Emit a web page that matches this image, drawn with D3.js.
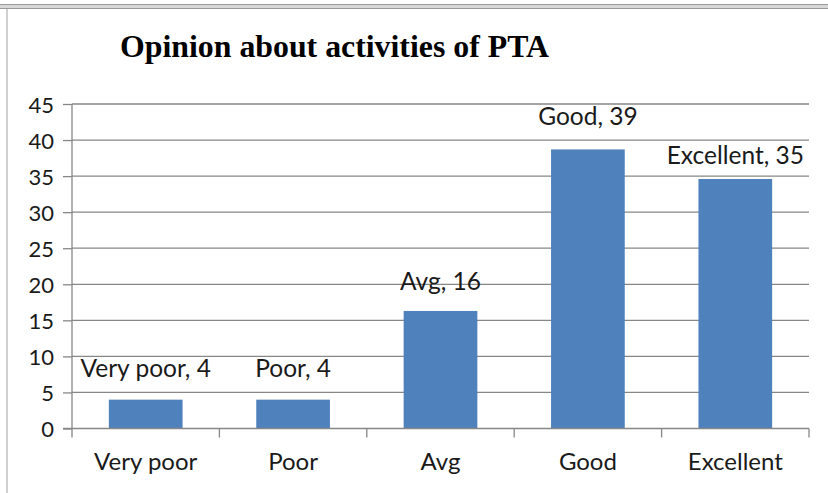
<!DOCTYPE html>
<html>
<head>
<meta charset="utf-8">
<script src="https://cdn.jsdelivr.net/npm/d3@7"></script>
<style>
  html, body { margin: 0; padding: 0; background: #fff; }
  svg { display: block; }
</style>
</head>
<body>
<svg id="chart" width="828" height="493"></svg>
<script>
const titleText = "Opinion about activities of PTA";
const categories = ["Very poor", "Poor", "Avg", "Good", "Excellent"];
const values = [4, 4, 16.3, 38.7, 34.6];
const yTicks = [0, 5, 10, 15, 20, 25, 30, 35, 40, 45];
const labelGap = [23, 23, 21, 24, 15];

const W = 828, H = 493;
const margin = { left: 72, right: 19, top: 104, bottom: 64.5 };
const svg = d3.select("#chart");
const gridColor = "#878787";
const font = "Lato, 'Open Sans', sans-serif";

// frame
svg.append("rect").attr("x", 0).attr("y", 4).attr("width", W).attr("height", 5).attr("fill", "#d8d8d8");
svg.append("line").attr("x1", 0).attr("x2", W).attr("y1", 4.5).attr("y2", 4.5).attr("stroke", "#9a9a9a").attr("stroke-width", 1.2);
svg.append("line").attr("x1", 0).attr("x2", W).attr("y1", 8.5).attr("y2", 8.5).attr("stroke", "#9a9a9a").attr("stroke-width", 1.2);
svg.append("line").attr("x1", 7).attr("x2", 7).attr("y1", 9).attr("y2", H).attr("stroke", "#b0b0b0").attr("stroke-width", 1.2);

const x = d3.scaleBand().domain(categories).range([margin.left, W - margin.right]).paddingInner(0.5).paddingOuter(0.25);
const y = d3.scaleLinear().domain([0, 45]).range([H - margin.bottom, margin.top]);

// gridlines
svg.append("g").selectAll("line").data(yTicks.filter(d => d > 0)).join("line")
  .attr("x1", margin.left).attr("x2", W - margin.right)
  .attr("y1", d => y(d)).attr("y2", d => y(d))
  .attr("stroke", gridColor).attr("stroke-width", 1.3);

// bars
svg.append("g").selectAll("rect").data(values).join("rect")
  .attr("x", (d, i) => x(categories[i]))
  .attr("width", x.bandwidth())
  .attr("y", d => y(d))
  .attr("height", d => y(0) - y(d))
  .attr("fill", "#4F81BD");

// y axis
const yAxis = d3.axisLeft(y).tickValues(yTicks).tickSize(9).tickFormat(d3.format("d"));
const gy = svg.append("g").attr("transform", `translate(${margin.left},0)`).call(yAxis);
gy.select(".domain").remove();
gy.selectAll(".tick line").attr("stroke", gridColor).attr("stroke-width", 1.3);
gy.selectAll(".tick text").attr("x", -18).attr("dy", "0.38em")
  .style("font-family", font).style("font-size", "22px").attr("fill", "#1a1a1a");
svg.append("line").attr("x1", margin.left).attr("x2", margin.left)
  .attr("y1", y(45)).attr("y2", y(0) + 9).attr("stroke", gridColor).attr("stroke-width", 1.3);

// x axis
const xb = d3.scaleLinear().domain([0, categories.length]).range([margin.left, W - margin.right]);
svg.append("line").attr("x1", margin.left - 9).attr("x2", W - margin.right)
  .attr("y1", y(0)).attr("y2", y(0)).attr("stroke", gridColor).attr("stroke-width", 1.3);
svg.append("g").selectAll("line").data(d3.range(1, categories.length + 1)).join("line")
  .attr("x1", d => xb(d)).attr("x2", d => xb(d))
  .attr("y1", y(0)).attr("y2", y(0) + 9)
  .attr("stroke", gridColor).attr("stroke-width", 1.3);
svg.append("g").selectAll("text").data(categories).join("text")
  .attr("x", d => x(d) + x.bandwidth() / 2)
  .attr("y", 470)
  .attr("text-anchor", "middle")
  .style("font-family", font).style("font-size", "24px").attr("fill", "#1a1a1a")
  .text(d => d);

// data labels
svg.append("g").selectAll("text").data(values).join("text")
  .attr("x", (d, i) => x(categories[i]) + x.bandwidth() / 2)
  .attr("y", (d, i) => y(d) - labelGap[i])
  .attr("text-anchor", "middle")
  .style("font-family", font).style("font-size", "24.5px").attr("fill", "#1a1a1a")
  .text((d, i) => `${categories[i]}, ${Math.round(d)}`);

// title
svg.append("text").attr("x", 120).attr("y", 57)
  .style("font-family", "'Liberation Serif', 'Times New Roman', serif")
  .style("font-weight", "bold").style("font-size", "31px").attr("fill", "#000")
  .attr("textLength", 429).attr("lengthAdjust", "spacingAndGlyphs")
  .text(titleText);
</script>
</body>
</html>
